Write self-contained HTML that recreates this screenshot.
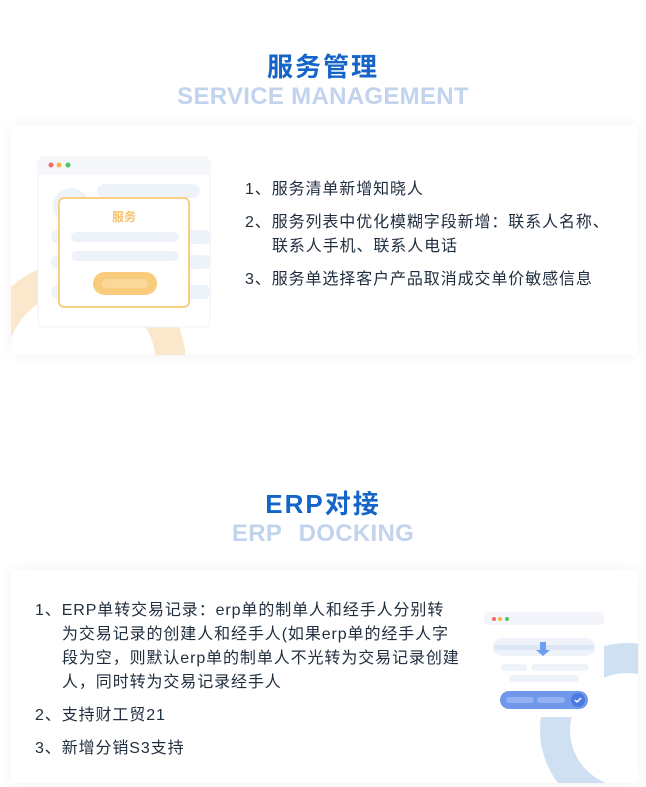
<!DOCTYPE html>
<html><head><meta charset="utf-8"><style>
body{margin:0;width:646px;height:787px;background:#fff;position:relative;overflow:hidden;font-family:"Liberation Sans","Noto Sans CJK SC",sans-serif;}
.t1{position:absolute;left:0;width:646px;text-align:center;font-size:26px;font-weight:bold;color:#1565c8;letter-spacing:2px;}
.t2{position:absolute;left:0;width:646px;text-align:center;font-size:24px;color:#c2d3ee;font-weight:bold;letter-spacing:0.3px;}
.card{position:absolute;left:11px;width:627px;background:#fff;border-radius:6px;box-shadow:0 0 14px rgba(0,0,0,0.06);overflow:hidden;}
.txt{position:absolute;font-size:16px;color:#1f2d3d;line-height:24px;letter-spacing:0.9px;}
.txt div{margin-bottom:9px}
.ind{padding-left:27px}
</style></head><body>
<div class="t1" style="top:47px">服务管理</div>
<div class="t2" style="top:83px">SERVICE MANAGEMENT</div>

<div class="card" style="top:125px;height:230px">
 <svg width="220" height="230" style="position:absolute;left:0;top:0">
  <circle cx="70" cy="240" r="90" fill="none" stroke="#fbe8cc" stroke-width="30"/>
  <rect x="27" y="32" width="172" height="170" rx="6" fill="#fff" stroke="#eef1f6"/>
  <rect x="27" y="32" width="172" height="18" rx="6" fill="#f5f7fb"/>
  <circle cx="40" cy="40" r="2.5" fill="#f26b6b"/><circle cx="48" cy="40" r="2.5" fill="#f6b73c"/><circle cx="57" cy="40" r="2.5" fill="#4cc66b"/>
  <circle cx="60" cy="81" r="18" fill="#eef2f9"/>
  <rect x="86" y="59" width="103" height="14" rx="7" fill="#eef2f9"/>
  <rect x="40" y="105" width="160" height="14" rx="7" fill="#eef2f9"/>
  <rect x="40" y="130" width="160" height="14" rx="7" fill="#eef2f9"/>
  <rect x="40" y="160" width="160" height="14" rx="7" fill="#eef2f9"/>
  <rect x="48" y="73" width="130" height="109" rx="5" fill="#fff" stroke="#f8cf84" stroke-width="2"/>
  <text x="113" y="96" font-size="12" font-weight="bold" fill="#f6c36f" text-anchor="middle" font-family="Liberation Sans,Noto Sans CJK SC,sans-serif">服务</text>
  <rect x="60" y="107" width="108" height="10" rx="5" fill="#eef2f9"/>
  <rect x="60" y="126" width="108" height="10" rx="5" fill="#eef2f9"/>
  <rect x="82" y="147" width="64" height="23" rx="11.5" fill="#f8cc7c"/>
  <rect x="91" y="154" width="46" height="9" rx="4.5" fill="#fad89a"/>
 </svg>
 <div class="txt" style="left:234px;top:53px">
  <div>1、服务清单新增知晓人</div>
  <div>2、服务列表中优化模糊字段新增：联系人名称、<br><span class="ind">联系人手机、联系人电话</span></div>
  <div>3、服务单选择客户产品取消成交单价敏感信息</div>
 </div>
</div>

<div class="t1" style="top:484px">ERP对接</div>
<div class="t2" style="top:520px;word-spacing:10px">ERP DOCKING</div>

<div class="card" style="top:570px;height:213px">
 <svg width="190" height="213" style="position:absolute;left:438px;top:0">
  <circle cx="178" cy="160" r="72" fill="none" stroke="#cfe0f2" stroke-width="30"/>
  <rect x="35" y="42" width="120" height="105" fill="#fff"/>
  <rect x="35" y="42" width="120" height="13" rx="4" fill="#f3f5fa"/>
  <circle cx="45" cy="49" r="2" fill="#f26b6b"/><circle cx="51" cy="49" r="2" fill="#f6b73c"/><circle cx="58" cy="49" r="2" fill="#4cc66b"/>
  <rect x="44" y="68" width="102" height="18" rx="9" fill="#eef2f9"/>
  <rect x="45" y="75" width="100" height="5" rx="2.5" fill="#dde6f4"/>
  <path d="M91 72 v8 h-4 l7 6 l7 -6 h-4 v-8z" fill="#6e9ef0"/>
  <rect x="52" y="94" width="26" height="7" rx="3.5" fill="#eef2f9"/>
  <rect x="82" y="94" width="58" height="7" rx="3.5" fill="#eef2f9"/>
  <rect x="60" y="105" width="70" height="7" rx="3.5" fill="#eef2f9"/>
  <rect x="51" y="121" width="88" height="18" rx="9" fill="#6f98eb"/>
  <rect x="57" y="127" width="28" height="6" rx="3" fill="#93b2f1"/>
  <rect x="88" y="127" width="28" height="6" rx="3" fill="#93b2f1"/>
  <circle cx="129" cy="130" r="7" fill="#4b7ae2"/>
  <path d="M126 130 l2 2 l4 -4" stroke="#fff" stroke-width="1.5" fill="none"/>
 </svg>
 <div class="txt" style="left:24px;top:29px">
  <div>1、ERP单转交易记录：erp单的制单人和经手人分别转<br><span class="ind">为交易记录的创建人和经手人(如果erp单的经手人字</span><br><span class="ind">段为空，则默认erp单的制单人不光转为交易记录创建</span><br><span class="ind">人，同时转为交易记录经手人</span></div>
  <div>2、支持财工贸21</div>
  <div>3、新增分销S3支持</div>
 </div>
</div>
</body></html>
